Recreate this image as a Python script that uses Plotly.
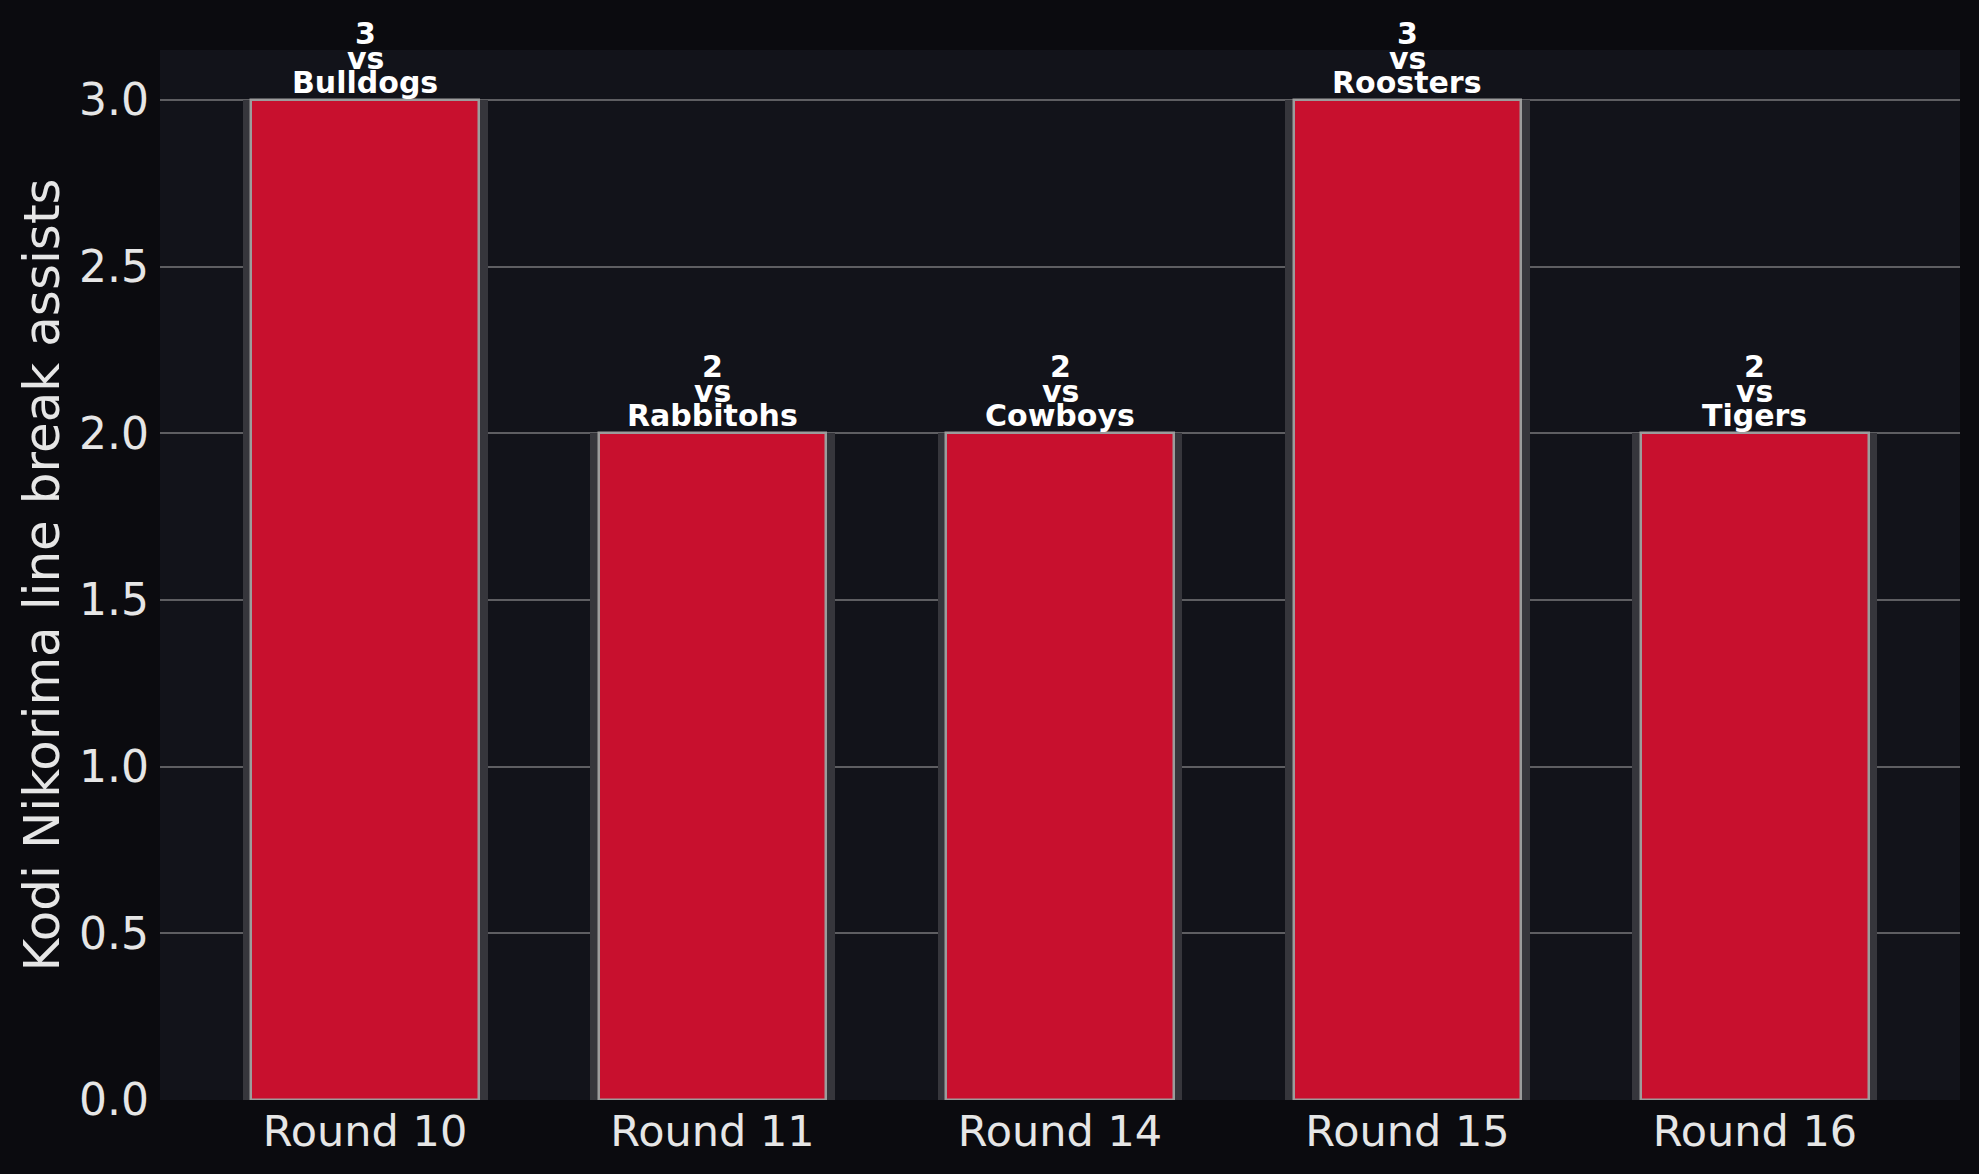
import plotly.graph_objects as go

rounds = ["Round 10", "Round 11", "Round 14", "Round 15", "Round 16"]
assists = [3, 2, 2, 3, 2]
opponents = ["Bulldogs", "Rabbitohs", "Cowboys", "Roosters", "Tigers"]

PAPER = "#0b0b0f"
PLOT = "#12131a"
RED = "#c8102e"
TXT = "#e6e6e6"
FONT = "DejaVu Sans"

fig = go.Figure()
# shadow bars
fig.add_trace(go.Bar(x=rounds, y=assists, width=0.705, marker=dict(color="#36363c", line=dict(width=0)),
                     hoverinfo="skip", showlegend=False))
# main bars
fig.add_trace(go.Bar(x=rounds, y=assists, width=0.655,
                     marker=dict(color=RED, line=dict(color="#9c9c9c", width=2.5)),
                     showlegend=False))

annotations = []
for r, v, o in zip(rounds, assists, opponents):
    for txt, shift in ((o, -1), ("vs", 23.5), (str(v), 48)):
        annotations.append(dict(x=r, y=v, xref="x", yref="y", text=txt, showarrow=False,
                                yanchor="bottom", xanchor="center", yshift=shift, borderpad=0,
                                font=dict(family=FONT, size=30, color="white", weight="bold")))

fig.update_layout(
    width=1979, height=1174,
    paper_bgcolor=PAPER, plot_bgcolor=PLOT,
    margin=dict(l=160, r=19, t=50, b=74),
    barmode="overlay", bargap=0,
    annotations=annotations,
    font=dict(family=FONT, color=TXT),
    xaxis=dict(range=[-0.59, 4.59], showgrid=False, zeroline=False, showline=False,
               tickfont=dict(size=43, color=TXT), ticks="", ticklabelstandoff=2),
    yaxis=dict(range=[0, 3.15], tickvals=[0, 0.5, 1, 1.5, 2, 2.5, 3],
               ticktext=["0.0", "0.5", "1.0", "1.5", "2.0", "2.5", "3.0"],
               showgrid=True, gridcolor="#5e5e62", gridwidth=1.5, zeroline=False, showline=False,
               tickfont=dict(size=44, color=TXT), ticks="", ticklabelstandoff=10,
               title=dict(text="Kodi Nikorima line break assists", font=dict(size=50, color=TXT), standoff=3)),
)
fig.write_html("out.html", config={"displayModeBar": False},
               post_script="document.body.style.margin='0';document.body.style.background='#0b0b0f';")
